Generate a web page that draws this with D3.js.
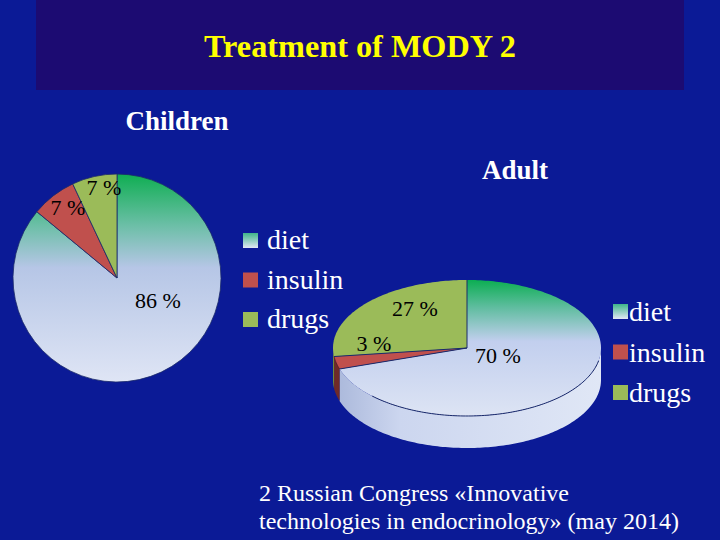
<!DOCTYPE html>
<html>
<head>
<meta charset="utf-8">
<script src="https://cdn.jsdelivr.net/npm/d3@7"></script>
<style>
  body { margin: 0; background: #0b1a96; }
  svg { display: block; }
</style>
</head>
<body>
<svg id="chart"></svg>
<script>
const categories = ['diet', 'insulin', 'drugs']
const childrenValues = [86, 7, 7]
const adultValues = [70, 3, 27]
const childrenLabels = ['86 %', '7 %', '7 %']
const adultLabels = ['70 %', '3 %', '27 %']

const w = 720
const h = 540
const serif = '"Liberation Serif", "Times New Roman", serif'

const svg = d3.select('#chart').attr('width', w).attr('height', h)
const defs = svg.append('defs')

svg.append('rect').attr('width', w).attr('height', h).attr('fill', '#0b1a96')
svg.append('rect').attr('x', 36).attr('y', 0).attr('width', 648).attr('height', 90).attr('fill', '#1c0b72')

svg.append('text')
  .text('Treatment of MODY 2')
  .attr('x', 360).attr('y', 57)
  .attr('text-anchor', 'middle')
  .attr('textLength', 312)
  .attr('lengthAdjust', 'spacingAndGlyphs')
  .style('font', `bold 31px ${serif}`)
  .style('fill', '#ffff00')

// gradients for the "diet" slices
function grad(id, y1, y2, stops, horizontal) {
  const g = defs.append('linearGradient').attr('id', id)
    .attr('gradientUnits', 'userSpaceOnUse')
  if (horizontal) g.attr('x1', y1).attr('x2', y2).attr('y1', 0).attr('y2', 0)
  else g.attr('x1', 0).attr('x2', 0).attr('y1', y1).attr('y2', y2)
  stops.forEach(s => g.append('stop').attr('offset', s[0]).attr('stop-color', s[1]))
}

const kids = { cx: 117, cy: 278, r: 104 }
const adult = { cx: 467, cy: 348, rx: 134, ry: 68, depth: 32 }

grad('dietLeft', -kids.r, kids.r, [[0, '#0fae52'], [0.25, '#6dbfa8'], [0.45, '#b6c6e6'], [1, '#dfe5f5']])
grad('dietTop', 280, 416, [[0, '#0cae52'], [0.2, '#5fbd9f'], [0.45, '#c2cfee'], [1, '#dde4f4']])
grad('dietSide', adult.cx - adult.rx, adult.cx + adult.rx,
  [[0, '#a9b7da'], [0.25, '#ccd6ef'], [1, '#e0e7f6']], true)

const color = d3.scaleOrdinal(categories, ['url(#dietLeft)', '#c0504d', '#9bbb59'])
const topColor = d3.scaleOrdinal(categories, ['url(#dietTop)', '#c0504d', '#9bbb59'])
const sideColor = d3.scaleOrdinal(categories, ['url(#dietSide)', '#6e2a28', '#6f8a3c'])

const pie = d3.pie().sort(null).value(d => d.value)

// ---- Children (flat pie)
const kidsData = pie(categories.map((c, i) => ({ name: c, value: childrenValues[i], label: childrenLabels[i] })))
const arc = d3.arc().innerRadius(0).outerRadius(kids.r)

const g1 = svg.append('g').attr('transform', `translate(${kids.cx}, ${kids.cy})`)
g1.selectAll('path')
  .data(kidsData)
  .enter()
  .append('path')
  .attr('d', arc)
  .attr('fill', d => color(d.data.name))
  .attr('stroke', '#1a2a6a')
  .attr('stroke-width', 0.8)

const kidsLabelPos = [[41, 30], [-49, -63], [-13, -83]]
g1.selectAll('text')
  .data(kidsData)
  .enter()
  .append('text')
  .text(d => d.data.label)
  .attr('x', (d, i) => kidsLabelPos[i][0])
  .attr('y', (d, i) => kidsLabelPos[i][1])
  .attr('text-anchor', 'middle')
  .style('font', `22px ${serif}`)
  .style('fill', '#000')

svg.append('text').text('Children')
  .attr('x', 177).attr('y', 130).attr('text-anchor', 'middle')
  .style('font', `bold 27px ${serif}`).style('fill', '#fff')

svg.append('text').text('Adult')
  .attr('x', 515).attr('y', 179).attr('text-anchor', 'middle')
  .style('font', `bold 27px ${serif}`).style('fill', '#fff')

// ---- Adult (tilted 3D pie)
const adultData = pie(categories.map((c, i) => ({ name: c, value: adultValues[i], label: adultLabels[i] })))
const pt = (a, dy) => [adult.cx + adult.rx * Math.sin(a), adult.cy - adult.ry * Math.cos(a) + dy]
const rim = (a0, a1, dy) => {
  const n = Math.max(2, Math.ceil(Math.abs(a1 - a0) / 0.02))
  return d3.range(n + 1).map(k => pt(a0 + (a1 - a0) * k / n, dy))
}
const line = d3.line()

const g2 = svg.append('g')

// side walls, only the front half is seen
adultData.forEach(d => {
  const a0 = Math.max(d.startAngle, Math.PI / 2)
  const a1 = Math.min(d.endAngle, Math.PI * 1.5)
  if (a1 <= a0) return
  const pts = rim(a0, a1, 0).concat(rim(a1, a0, adult.depth))
  g2.append('path')
    .attr('d', line(pts) + 'Z')
    .attr('fill', sideColor(d.data.name))
})

g2.selectAll('path.top')
  .data(adultData)
  .enter()
  .append('path')
  .attr('class', 'top')
  .attr('d', d => line([[adult.cx, adult.cy]].concat(rim(d.startAngle, d.endAngle, 0))) + 'Z')
  .attr('fill', d => topColor(d.data.name))

// slice borders and the front edge of the top face
g2.selectAll('path.edge')
  .data(adultData)
  .enter()
  .append('path')
  .attr('class', 'edge')
  .attr('d', d => line([[adult.cx, adult.cy], pt(d.startAngle, 0)]))
  .attr('stroke', '#1a2a6a')
  .attr('stroke-width', 1)
g2.append('path')
  .attr('d', line(rim(Math.PI * 0.56, Math.PI * 1.25, 0)))
  .attr('fill', 'none')
  .attr('stroke', '#1a2a6a')
  .attr('stroke-width', 1)
g2.append('path')
  .attr('d', line(rim(adultData[1].startAngle, adultData[1].endAngle, 0)))
  .attr('fill', 'none')
  .attr('stroke', '#5a2020')
  .attr('stroke-width', 0.8)

const adultLabelPos = [[31, 15], [-93, 3], [-52, -32]]
g2.selectAll('text')
  .data(adultData)
  .enter()
  .append('text')
  .text(d => d.data.label)
  .attr('x', (d, i) => adult.cx + adultLabelPos[i][0])
  .attr('y', (d, i) => adult.cy + adultLabelPos[i][1])
  .attr('text-anchor', 'middle')
  .style('font', `22px ${serif}`)
  .style('fill', '#000')

// ---- legends
const legendSwatch = d3.scaleOrdinal(categories, ['url(#legGrad)', '#c0504d', '#9bbb59'])
grad('legGrad', 0, 1, [[0, '#3fb58a'], [1, '#e2e8f6']])
defs.select('#legGrad').attr('gradientUnits', 'objectBoundingBox')

function legend(x, y, gap, textGap, base) {
  const row = d3.scaleBand().domain(categories).range([y, y + gap * 3])
  const lg = svg.append('g')
  lg.selectAll('rect')
    .data(categories)
    .enter()
    .append('rect')
    .attr('x', x)
    .attr('y', d => row(d))
    .attr('width', 15)
    .attr('height', 15)
    .attr('fill', d => legendSwatch(d))
  lg.selectAll('text')
    .data(categories)
    .enter()
    .append('text')
    .text(d => d)
    .attr('x', x + textGap)
    .attr('y', d => row(d) + base)
    .style('font', `28px ${serif}`)
    .style('fill', '#fff')
}
legend(243, 233, 39.5, 24, 16)
legend(613, 304, 40.5, 16, 17)

// ---- source note
svg.append('text').text('2 Russian Congress «Innovative')
  .attr('x', 259).attr('y', 501)
  .style('font', `24px ${serif}`).style('fill', '#fff')
svg.append('text').text('technologies in endocrinology» (may 2014)')
  .attr('x', 259).attr('y', 529)
  .style('font', `24px ${serif}`).style('fill', '#fff')
</script>
</body>
</html>
